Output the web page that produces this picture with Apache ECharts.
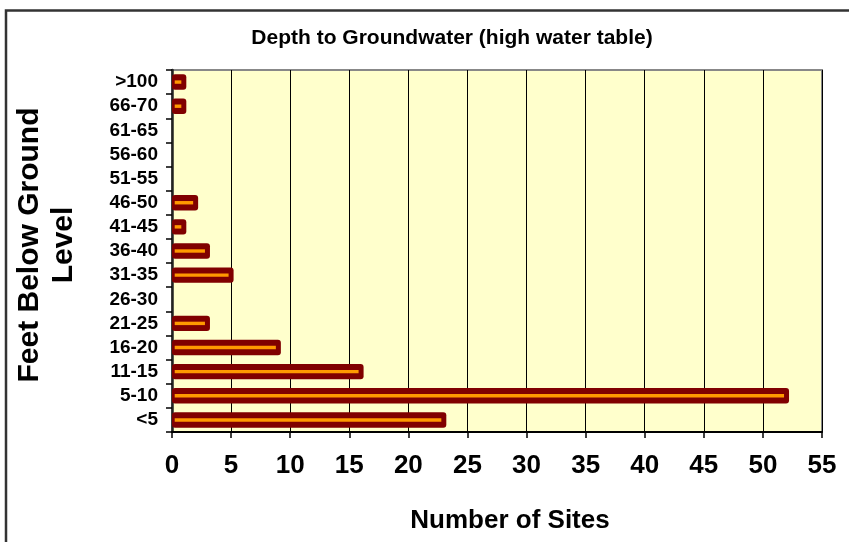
<!DOCTYPE html>
<html>
<head>
<meta charset="utf-8">
<script src="https://cdn.jsdelivr.net/npm/echarts@6/dist/echarts.min.js"></script>
<style>
  html, body { margin: 0; padding: 0; background: #fff; }
  #main { width: 849px; height: 542px; }
</style>
</head>
<body>
<div id="main"></div>
<script>
// depth classes, bottom to top
const depthClasses = ['<5', '5-10', '11-15', '16-20', '21-25', '26-30', '31-35', '36-40',
  '41-45', '46-50', '51-55', '56-60', '61-65', '66-70', '>100']
const siteCounts = [23, 52, 16, 9, 3, 0, 5, 3, 1, 2, 0, 0, 0, 1, 1]
const xTicks = [0, 5, 10, 15, 20, 25, 30, 35, 40, 45, 50, 55]

const font = 'Liberation Sans, Arial, sans-serif'

// excel-style bar: thick dark red outline with an orange core
function renderBar(params, api) {
  const v = api.value(0)
  if (!v) return
  const start = api.coord([0, api.value(1)])
  const end = api.coord([v, api.value(1)])
  const h = 15.4
  const len = end[0] - start[0]
  return {
    type: 'group',
    children: [
      {
        type: 'rect',
        shape: { x: start[0], y: end[1] - h / 2, width: len + 2.5, height: h, r: 3 },
        style: { fill: '#800000' },
      },
      {
        type: 'rect',
        shape: { x: start[0] + 2.7, y: end[1] - 1.7, width: Math.max(len - 5.2, 1), height: 3.4 },
        style: { fill: '#FF9900' },
      },
    ],
  }
}

var myChart = echarts.init(document.getElementById('main'))
let option = {
  backgroundColor: '#fff',
  animation: false,
  title: {
    text: 'Depth to Groundwater (high water table)',
    left: 447,
    textAlign: 'center',
    top: 23,
    textStyle: { fontFamily: font, fontSize: 21, fontWeight: 'bold', color: '#000' },
  },
  graphic: [
    {
      type: 'polyline',
      shape: { points: [[6, 542], [6, 10.5], [849, 10.5]] },
      style: { stroke: '#333', lineWidth: 2.5, fill: null },
      z: 100,
    },
  ],
  grid: {
    left: 172,
    right: 27,
    top: 70,
    bottom: 110,
    show: true,
    backgroundColor: '#FFFFCC',
    borderColor: '#888',
    borderWidth: 2,
  },
  xAxis: {
    type: 'value',
    min: xTicks[0],
    max: xTicks[xTicks.length - 1],
    interval: 5,
    name: 'Number of Sites',
    nameLocation: 'middle',
    nameGap: 76,
    nameTextStyle: {
      fontFamily: font, fontSize: 26, fontWeight: 'bold', color: '#000',
      padding: [0, 0, 0, 26],
    },
    axisLine: { show: true, lineStyle: { color: '#000', width: 2 } },
    axisTick: { show: true, length: 6, lineStyle: { color: '#000', width: 1.5 } },
    axisLabel: {
      margin: 21,
      fontFamily: font, fontSize: 26, fontWeight: 'bold', color: '#000',
    },
    splitLine: { show: true, lineStyle: { color: '#000', width: 1 } },
  },
  yAxis: {
    type: 'category',
    data: depthClasses,
    name: 'Feet Below Ground\nLevel',
    nameLocation: 'middle',
    nameGap: 91,
    nameRotate: 90,
    nameTextStyle: {
      fontFamily: font, fontSize: 30, fontWeight: 'bold', color: '#000', lineHeight: 34,
      padding: [0, 0, 0, 12],
    },
    axisLine: { show: true, lineStyle: { color: '#222', width: 2.5 } },
    axisTick: { show: true, length: 6, lineStyle: { color: '#000', width: 1.5 } },
    axisLabel: {
      interval: 0,
      margin: 14,
      fontFamily: font, fontSize: 19, fontWeight: 'bold', color: '#000',
    },
  },
  series: [
    {
      name: 'Sites',
      type: 'custom',
      renderItem: renderBar,
      encode: { x: 0, y: 1 },
      data: siteCounts.map((v, i) => [v, i]),
      z: 3,
    },
  ],
}
myChart.setOption(option)
</script>
</body>
</html>
